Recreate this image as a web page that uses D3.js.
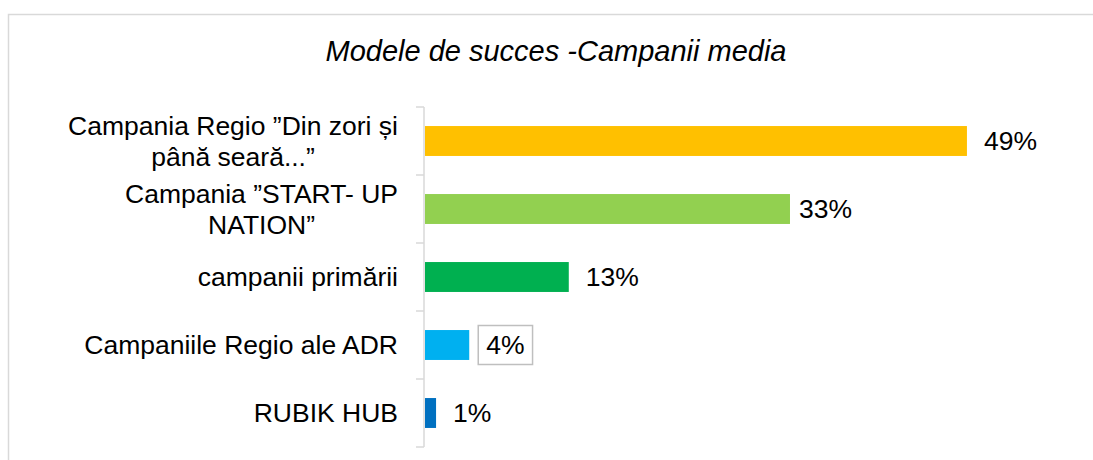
<!DOCTYPE html>
<html>
<head>
<meta charset="utf-8">
<script src="https://cdn.jsdelivr.net/npm/d3@7"></script>
<style>
  html, body { margin: 0; padding: 0; background: #fff; }
  svg { display: block; font-family: Arial, "Liberation Sans", sans-serif; }
</style>
</head>
<body>
<svg id="chart" width="1093" height="460"></svg>
<script>
const title = "Modele de succes -Campanii media";
const categories = [
  ["Campania Regio ”Din zori și", "până seară...”"],
  ["Campania ”START- UP", "NATION”"],
  ["campanii primării"],
  ["Campaniile Regio ale ADR"],
  ["RUBIK HUB"]
];
const values = [0.49, 0.33, 0.13, 0.04, 0.01];
const valueLabels = ["49%", "33%", "13%", "4%", "1%"];
const colors = ["#FFC000", "#92D050", "#00B050", "#00B0F0", "#0070C0"];
const boxedLabel = [false, false, false, true, false];

const svg = d3.select("#chart");
const W = 1093, H = 460;

// outer frame (cropped on right/bottom)
svg.append("rect")
  .attr("x", 8.5).attr("y", 14.5)
  .attr("width", W + 20).attr("height", H + 20)
  .attr("fill", "#fff").attr("stroke", "#d9d9d9").attr("stroke-width", 1.5);

// title
svg.append("text")
  .attr("x", 556).attr("y", 61)
  .attr("text-anchor", "middle")
  .attr("font-size", 29).attr("font-style", "italic")
  .attr("fill", "#000")
  .text(title);

const axisX = 424;
const ids = d3.range(categories.length);
const y = d3.scaleBand().domain(ids).range([107, 447]).paddingInner(0.56).paddingOuter(0.28);
const x = d3.scaleLinear().domain([0, 0.5]).range([axisX + 1, axisX + 1 + 553]);

// bars
svg.selectAll("rect.bar").data(ids).join("rect")
  .attr("class", "bar")
  .attr("x", x(0))
  .attr("y", i => y(i))
  .attr("width", i => x(values[i]) - x(0))
  .attr("height", y.bandwidth())
  .attr("fill", i => colors[i]);

// axis line + ticks
const step = (447 - 107) / categories.length;
svg.append("line")
  .attr("x1", axisX).attr("x2", axisX)
  .attr("y1", 107).attr("y2", 447)
  .attr("stroke", "#d9d9d9").attr("stroke-width", 1.5);
svg.selectAll("line.tick").data(d3.range(categories.length + 1)).join("line")
  .attr("class", "tick")
  .attr("x1", axisX - 8).attr("x2", axisX)
  .attr("y1", k => 107 + k * step).attr("y2", k => 107 + k * step)
  .attr("stroke", "#d9d9d9").attr("stroke-width", 1.5);

// category labels
const fs = 26.5, lh = 31;
const rightEdge = 398;
ids.forEach(i => {
  const lines = categories[i];
  const cy = y(i) + y.bandwidth() / 2;
  const g = svg.append("g");
  const texts = lines.map((t, k) => g.append("text")
    .attr("font-size", fs).attr("fill", "#000")
    .attr("text-anchor", "middle")
    .attr("y", cy + (k - (lines.length - 1) / 2) * lh)
    .attr("dy", "0.35em")
    .text(t));
  const maxW = d3.max(texts, t => t.node().getComputedTextLength());
  texts.forEach(t => t.attr("x", rightEdge - maxW / 2));
});

// value labels
ids.forEach(i => {
  const cy = y(i) + y.bandwidth() / 2;
  const tx = x(values[i]) + (i === 1 ? 9 : 17);
  const t = svg.append("text")
    .attr("x", tx).attr("y", cy).attr("dy", "0.35em")
    .attr("font-size", fs).attr("fill", "#000")
    .text(valueLabels[i]);
  if (boxedLabel[i]) {
    const bb = t.node().getBBox();
    svg.insert("rect", () => t.node())
      .attr("x", bb.x - 8).attr("y", cy - 19.5)
      .attr("width", bb.width + 16).attr("height", 39)
      .attr("fill", "#fff").attr("stroke", "#bfbfbf").attr("stroke-width", 1.5);
  }
});
</script>
</body>
</html>
